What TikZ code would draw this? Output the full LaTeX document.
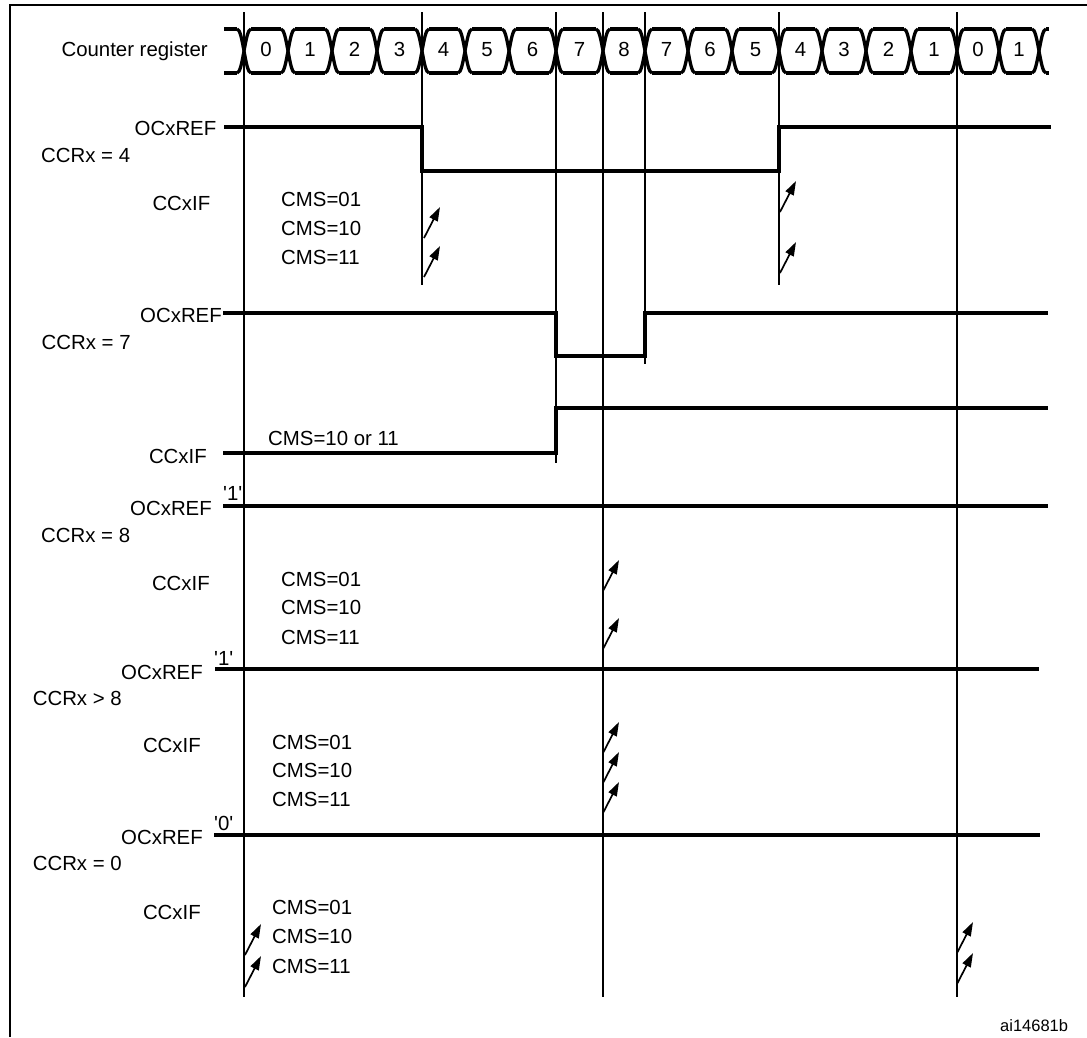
\documentclass[tikz,border=0pt]{standalone}
\usepackage{fontspec}
\setmainfont{Liberation Sans}
\usetikzlibrary{arrows.meta}

\begin{document}
\begin{tikzpicture}[x=1pt,y=-1pt,
    txt/.style={inner sep=0pt,font=\fontsize{20.4}{24}\selectfont},
    sig/.style={line width=4pt},
    bus/.style={line width=3.3pt},
    vline/.style={line width=1.6pt},
    flag/.style={line width=1.7pt,-{Triangle[length=14pt,width=9pt]}}]
\useasboundingbox (0,0) rectangle (1087,1037);
\draw[line width=2pt] (10,1037) -- (10,4.5) -- (1087,4.5);

% counter register
\node[txt,anchor=base east] (cnt) at (208,56) {Counter register};
\draw[bus] (224,29) -- (237,29) (224,73) -- (237,73) (1046,29) -- (1049,29) (1046,73) -- (1049,73);
\foreach \x in {244,288,332,377,422,465,509,556,603,645,688,732,779,822,866,911,957,999,1039}
    \draw[bus] (\x-7,29) .. controls (\x-1,29) and (\x+1,73) .. (\x+7,73)
               (\x-7,73) .. controls (\x-1,73) and (\x+1,29) .. (\x+7,29);
\foreach \xa/\xb/\v [count=\i] in {244/288/0,288/332/1,332/377/2,377/422/3,422/465/4,465/509/5,
        509/556/6,556/603/7,603/645/8,645/688/7,688/732/6,732/779/5,779/822/4,822/866/3,
        866/911/2,911/957/1,957/999/0,999/1039/1} {
    \draw[bus] (\xa+7,29) -- (\xb-7,29) (\xa+7,73) -- (\xb-7,73);
    \node[txt,anchor=base] (c\i) at ({(\xa+\xb)/2},56) {\v};
}

% time markers
\foreach \x/\yb in {244/997,422/285,556/463,603/997,645/364,779/285,957/997}
    \draw[vline] (\x,12) -- (\x,\yb);

% CCRx = 4
\node[txt,anchor=base east] (ref1) at (216.5,135) {OCxREF};
\node[txt,anchor=base west] (ccr1) at (41,162) {CCRx = 4};
\node[txt,anchor=base east] (if1) at (210.5,210) {CCxIF};
\node[txt,anchor=base west] (m1a) at (281,206) {CMS=01};
\node[txt,anchor=base west] (m1b) at (281,235) {CMS=10};
\node[txt,anchor=base west] (m1c) at (281,264) {CMS=11};
\draw[sig] (224,127) -- (422,127) -- (422,171) -- (779,171) -- (779,127) -- (1051,127);

% CCRx = 7
\node[txt,anchor=base east] (ref2) at (222,322) {OCxREF};
\node[txt,anchor=base west] (ccr2) at (41.5,349) {CCRx = 7};
\node[txt,anchor=base east] (if2) at (207,463) {CCxIF};
\node[txt,anchor=base west] (m2) at (268,445) {CMS=10 or 11};
\draw[sig] (223,313) -- (556,313) -- (556,356) -- (645,356) -- (645,313) -- (1048,313);
\draw[sig] (223,453) -- (556,453) -- (556,408) -- (1048,408);

% CCRx = 8
\node[txt,anchor=base west] (q3) at (223,500) {\textquotesingle1\textquotesingle};
\node[txt,anchor=base east] (ref3) at (212,515) {OCxREF};
\node[txt,anchor=base west] (ccr3) at (41,542) {CCRx = 8};
\node[txt,anchor=base east] (if3) at (210,590) {CCxIF};
\node[txt,anchor=base west] (m3a) at (281,586) {CMS=01};
\node[txt,anchor=base west] (m3b) at (281,614) {CMS=10};
\node[txt,anchor=base west] (m3c) at (281,644) {CMS=11};
\draw[sig] (223,506) -- (1048,506);

% CCRx > 8
\node[txt,anchor=base west] (q4) at (214,665) {\textquotesingle1\textquotesingle};
\node[txt,anchor=base east] (ref4) at (203,679) {OCxREF};
\node[txt,anchor=base west] (ccr4) at (32.6,705) {CCRx > 8};
\node[txt,anchor=base east] (if4) at (201,752) {CCxIF};
\node[txt,anchor=base west] (m4a) at (272,749) {CMS=01};
\node[txt,anchor=base west] (m4b) at (272,777) {CMS=10};
\node[txt,anchor=base west] (m4c) at (272,806) {CMS=11};
\draw[sig] (215,669) -- (1039,669);

% CCRx = 0
\node[txt,anchor=base west] (q5) at (214,830) {\textquotesingle0\textquotesingle};
\node[txt,anchor=base east] (ref5) at (203,844) {OCxREF};
\node[txt,anchor=base west] (ccr5) at (32.6,870) {CCRx = 0};
\node[txt,anchor=base east] (if5) at (201,919) {CCxIF};
\node[txt,anchor=base west] (m5a) at (272,914) {CMS=01};
\node[txt,anchor=base west] (m5b) at (272,943) {CMS=10};
\node[txt,anchor=base west] (m5c) at (272,973) {CMS=11};
\draw[sig] (214,835) -- (1040,835);

% interrupt flags
\foreach \x/\y in {424/238,424/277,780/212,780/273,603/591,603/649,603/753,603/783,603/813,
        245/955,245/987,957/953,957/984}
    \draw[flag] (\x,\y) -- ++(16,-31);

\node[anchor=base west,inner sep=0pt,font=\fontsize{16.5}{20}\selectfont] (tag) at (1000,1031) {ai14681b};
\end{tikzpicture}
\end{document}
